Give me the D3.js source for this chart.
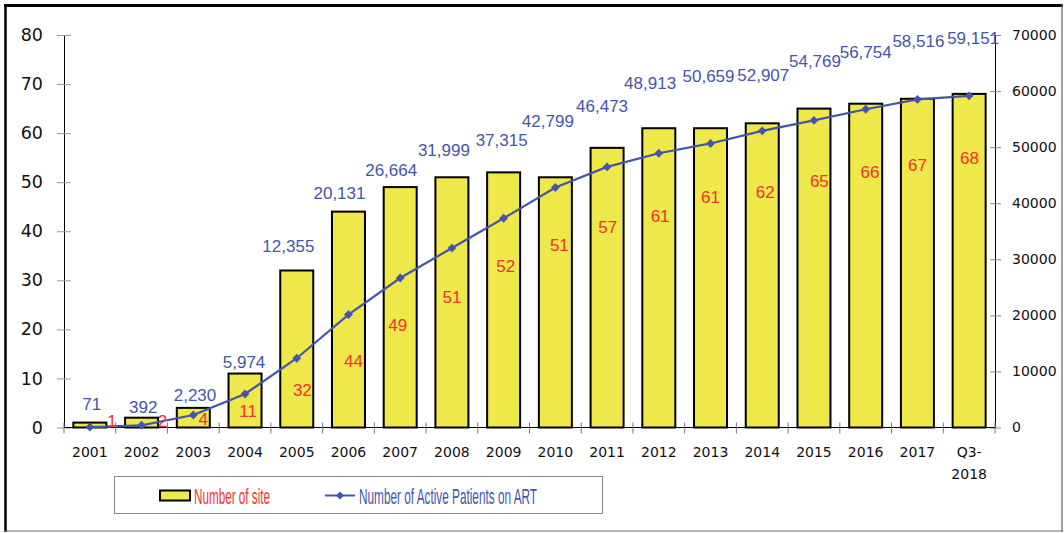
<!DOCTYPE html>
<html><head><meta charset="utf-8">
<script src="https://cdn.jsdelivr.net/npm/d3@7"></script>
<style>
html,body{margin:0;padding:0;background:#fff;}
svg{display:block;}
</style></head>
<body>
<svg id="chart" width="1064" height="533"></svg>
<script>
// ---- data ----
const years = ["2001","2002","2003","2004","2005","2006","2007","2008","2009","2010","2011","2012","2013","2014","2015","2016","2017","Q3-2018"];
const sites = [1,2,4,11,32,44,49,51,52,51,57,61,61,62,65,66,67,68];
const patients = [71,392,2230,5974,12355,20131,26664,31999,37315,42799,46473,48913,50659,52907,54769,56754,58516,59151];
const leftTicks = [0,10,20,30,40,50,60,70,80];
const rightTicks = [0,10000,20000,30000,40000,50000,60000,70000];
const seriesNames = ["Number of site","Number of Active Patients on ART"];

// ---- label placement (layout only, in axis units / px offsets) ----
const siteLabelAt = [1.43,1.43,1.7,3.47,7.64,13.55,20.9,26.6,32.9,37.2,40.9,43.2,47.0,48.1,50.3,52.1,53.6,54.9];
const siteLabelDx = [22,21,10,3,5.6,5,-2.4,0,2,4,0.7,1.3,0,3,5.4,4.3,0,0.3];
const patLabelAt = [4280,3710,5796,11771,32370,41912,46014,49492,51365,54717,57428,61388,62690,62868,65365,67059,68932,69556];
const patLabelDx = [1.8,1.7,1.7,-1,-8.4,-9,-9,-8,-2,-7.5,-5,-8.7,-2,1,1,0,1,4];

const svg = d3.select("#chart");
const L = 64, R = 995, T = 35, B = 427.5;

const x = d3.scaleBand().domain(years).range([L, R]).paddingInner(0).paddingOuter(0);
const yL = d3.scaleLinear().domain([0,80]).range([B, T]);
const yR = d3.scaleLinear().domain([0,70000]).range([B, T]);

const blue = "#4556A8", red = "#EE3333", yellow = "#EFE84A";

// frame
svg.append("line").attr("x1",4).attr("x2",1063).attr("y1",5.5).attr("y2",5.5).attr("stroke","#000").attr("stroke-width",3);
svg.append("line").attr("x1",5.5).attr("x2",5.5).attr("y1",4).attr("y2",532).attr("stroke","#000").attr("stroke-width",2.5);
svg.append("line").attr("x1",1062).attr("x2",1062).attr("y1",4).attr("y2",532).attr("stroke","#666").attr("stroke-width",1.2);
svg.append("line").attr("x1",4).attr("x2",1063).attr("y1",531).attr("y2",531).attr("stroke","#666").attr("stroke-width",1.2);

// left axis
const gL = svg.append("g").attr("transform",`translate(${L},0)`)
  .call(d3.axisLeft(yL).tickValues(leftTicks).tickSize(0).tickPadding(21));
gL.select(".domain").attr("stroke","#000");
gL.selectAll(".tick text").attr("font-family","DejaVu Sans, Verdana, sans-serif").attr("font-size",17.5).attr("fill","#111");
gL.selectAll(".tick").append("line").attr("x1",-7).attr("x2",7).attr("stroke","#999");

// right axis
const gR = svg.append("g").attr("transform",`translate(${R},0)`)
  .call(d3.axisRight(yR).tickValues(rightTicks).tickSize(0).tickPadding(17).tickFormat(d3.format("d")));
gR.select(".domain").attr("stroke","#000");
gR.selectAll(".tick text").attr("font-family","DejaVu Sans, Verdana, sans-serif").attr("font-size",14).attr("fill","#111");
gR.selectAll(".tick").append("line").attr("x1",-5).attr("x2",6).attr("stroke","#888");

// bars
const bw = x.bandwidth()*0.638;
svg.append("g").selectAll("rect").data(years).join("rect")
  .attr("x", (d)=> x(d)+x.bandwidth()/2 - bw/2)
  .attr("y", (d,i)=> yL(sites[i]))
  .attr("width", bw)
  .attr("height", (d,i)=> B - yL(sites[i]))
  .attr("fill", yellow).attr("stroke","#000").attr("stroke-width",2);

// x axis
svg.append("line").attr("x1",L).attr("x2",R).attr("y1",B).attr("y2",B).attr("stroke","#000").attr("stroke-width",1.2);
const bounds = years.map(d=>x(d)).concat([R]);
svg.append("g").selectAll("line").data(bounds).join("line")
  .attr("x1",d=>d).attr("x2",d=>d).attr("y1",B-5).attr("y2",B+6).attr("stroke","#777");
const xl = svg.append("g").selectAll("text").data(years).join("text")
  .attr("x", d=> x(d)+x.bandwidth()/2)
  .attr("y", 457)
  .attr("text-anchor","middle")
  .attr("font-family","DejaVu Sans, Verdana, sans-serif").attr("font-size",14).attr("fill","#111");
xl.each(function(d){
  const t = d3.select(this);
  if (d.startsWith("Q3-")) {
    t.append("tspan").attr("x", x(d)+x.bandwidth()/2).attr("dy",0).text("Q3-");
    t.append("tspan").attr("x", x(d)+x.bandwidth()/2).attr("dy",21.6).text(d.slice(3));
  } else t.text(d);
});

// line
const cx = d => x(d)+x.bandwidth()/2;
svg.append("path").datum(years)
  .attr("d", d3.line().x(d=>cx(d)).y((d,i)=>yR(patients[i])))
  .attr("fill","none").attr("stroke",blue).attr("stroke-width",2.2);
svg.append("g").selectAll("path").data(years).join("path")
  .attr("d", d3.symbol().type(d3.symbolDiamond2).size(50))
  .attr("transform",(d,i)=>`translate(${cx(d)},${yR(patients[i])})`)
  .attr("fill",blue);

// site labels (red)
svg.append("g").selectAll("text").data(years).join("text")
  .attr("x",(d,i)=>cx(d)+siteLabelDx[i])
  .attr("y",(d,i)=>yL(siteLabelAt[i]))
  .attr("dy","0.36em")
  .attr("text-anchor","middle")
  .attr("font-family","Liberation Sans, Arial, sans-serif").attr("font-size",17).attr("fill",red)
  .text((d,i)=>sites[i]);

// patient labels (blue)
const fmt = d3.format(",");
svg.append("g").selectAll("text").data(years).join("text")
  .attr("x",(d,i)=>cx(d)+patLabelDx[i])
  .attr("y",(d,i)=>yR(patLabelAt[i]))
  .attr("dy","0.36em")
  .attr("text-anchor","middle")
  .attr("font-family","Liberation Sans, Arial, sans-serif").attr("font-size",17).attr("fill",blue)
  .text((d,i)=>fmt(patients[i]));

// legend
const lg = svg.append("g");
lg.append("rect").attr("x",114.5).attr("y",476.5).attr("width",488).attr("height",37).attr("fill","#fff").attr("stroke","#888").attr("stroke-width",1);
lg.append("rect").attr("x",160).attr("y",490.5).attr("width",30).attr("height",10).attr("fill",yellow).attr("stroke","#000").attr("stroke-width",2);
lg.append("text").attr("x",194).attr("y",503.5).attr("font-family","Liberation Sans Narrow, Liberation Sans, Arial, sans-serif")
  .attr("font-size",21.5).attr("fill",red).attr("textLength",76).attr("lengthAdjust","spacingAndGlyphs").text(seriesNames[0]);
lg.append("line").attr("x1",325).attr("x2",355).attr("y1",495.5).attr("y2",495.5).attr("stroke",blue).attr("stroke-width",2);
lg.append("path").attr("d", d3.symbol().type(d3.symbolDiamond2).size(40)).attr("transform","translate(340,495.5)").attr("fill",blue);
lg.append("text").attr("x",359).attr("y",503.5).attr("font-family","Liberation Sans Narrow, Liberation Sans, Arial, sans-serif")
  .attr("font-size",21.5).attr("fill",blue).attr("textLength",178).attr("lengthAdjust","spacingAndGlyphs").text(seriesNames[1]);
</script>
</body></html>
